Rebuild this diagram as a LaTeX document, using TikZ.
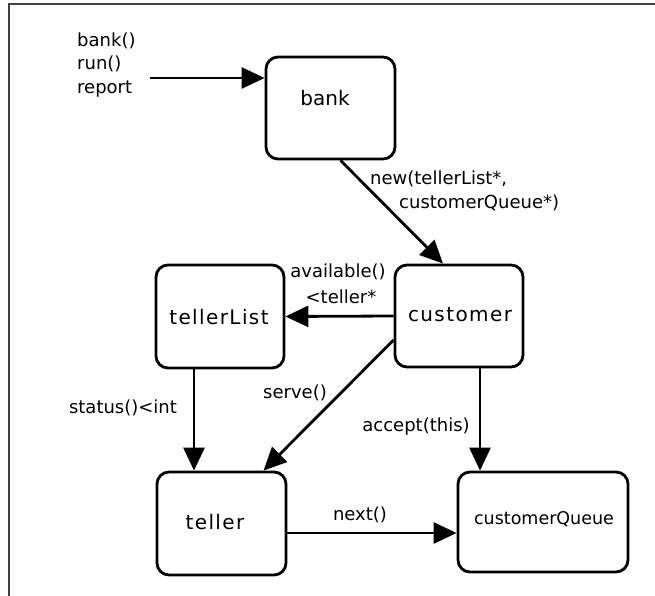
\documentclass[tikz,border=0pt]{standalone}
\usepackage{fontspec}
\setmainfont{DejaVu Sans}
\newfontfamily\spacedfont[LetterSpace=7]{DejaVu Sans}
\usetikzlibrary{arrows.meta}
\tikzset{
  box/.style={draw, line width=2.8pt, rounded corners=12pt, inner sep=0pt},
  boxtext/.style={font=\spacedfont\fontsize{20}{24}\selectfont, inner sep=0pt},
  lbl/.style={font=\fontsize{18}{22}\selectfont, inner sep=0pt},
  conn/.style={line width=2.8pt, -{Triangle[length=23pt,width=21pt]}},
  frameline/.style={line width=1.6pt, draw=black!75}
}
\begin{document}
\begin{tikzpicture}[x=1pt,y=-1pt]
\useasboundingbox (0,0) rectangle (655,596);
\coordinate (frTL) at (9,4);
\coordinate (frTR) at (655,4);
\coordinate (frBL) at (9,596);
\draw[frameline] (frTR) -- (frTL) -- (frBL);

% boxes
\node[box, minimum width=129pt, minimum height=102pt] (bank) at (330.5,108) {};
\node[font=\fontsize{20}{24}\selectfont, inner sep=0pt] (bankT) at (325,98) {bank};
\node[box, minimum width=128pt, minimum height=103pt] (tellerList) at (220,316.5) {};
\node[boxtext] (tellerListT) at (219,317) {tellerList};
\node[box, minimum width=128pt, minimum height=102pt] (customer) at (459,316) {};
\node[boxtext] (customerT) at (460,315) {customer};
\node[box, minimum width=129pt, minimum height=103pt] (teller) at (221.5,523.5) {};
\node[boxtext] (tellerT) at (215,522) {teller};
\node[box, minimum width=170pt, minimum height=100pt] (customerQueue) at (543,522) {};
\node[font=\fontsize{17.5}{21}\selectfont, inner sep=0pt] (customerQueueT) at (544,519) {customerQueue};

% input
\node[lbl, anchor=west, align=left, font=\fontsize{18}{23.5}\selectfont] (inputs) at (77,65) {bank()\\run()\\report};
\coordinate (inStart) at (150,78);
\draw[conn] (inStart) -- (bank.west |- inStart);

% new
\draw[conn] ([xshift=10pt]bank.south) -- ([xshift=-16pt]customer.north);
\node[lbl, anchor=west] (newA) at (370,179) {new(tellerList*,};
\node[lbl, anchor=west] (newB) at (399,203) {customerQueue*)};

% available
\draw[conn] (customer.west) -- (tellerList.east);
\node[lbl] (availA) at (338,272) {available()};
\node[lbl] (availB) at (341,297) {<teller*};

% serve
\draw[conn] ([yshift=-24pt]customer.west) -- ([xshift=42pt]teller.north);
\node[lbl] (serveL) at (295,393) {serve()};

% status
\draw[conn] ([xshift=-26pt]tellerList.south) -- ([xshift=-27.5pt]teller.north);
\node[lbl] (statusL) at (123,408) {status()<int};

% accept
\draw[conn] ([xshift=21pt]customer.south) -- ([xshift=-63pt]customerQueue.north);
\node[lbl] (acceptL) at (416,427) {accept(this)};

% next
\draw[conn] (teller.east |- 0,533) -- (customerQueue.west |- 0,533);
\node[lbl] (nextL) at (360,515) {next()};
\end{tikzpicture}
\end{document}
